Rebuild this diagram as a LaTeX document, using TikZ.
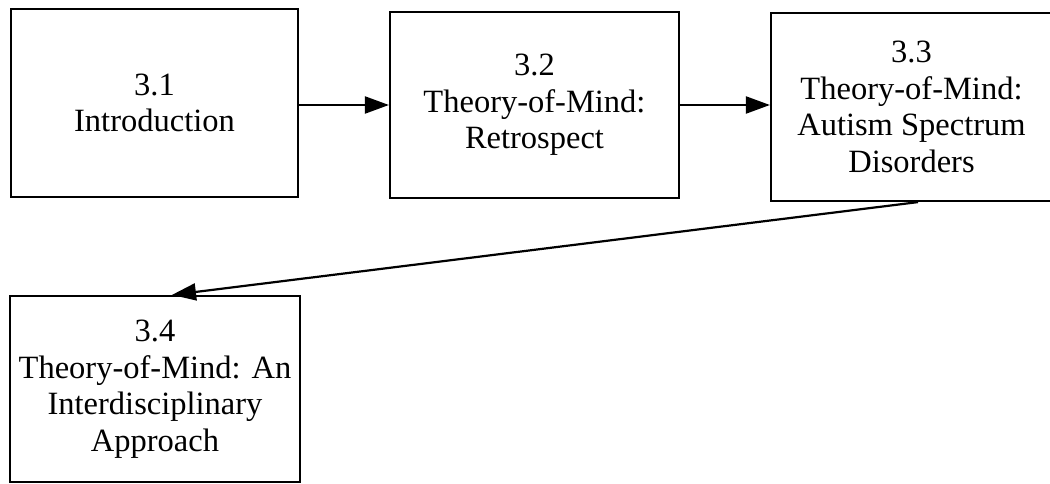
\documentclass[tikz,border=0pt]{standalone}
\usepackage{fontspec}
\setmainfont{Liberation Serif}
\usetikzlibrary{arrows.meta}
\begin{document}
\begin{tikzpicture}[x=1pt,y=-1pt,
  secbox/.style={draw=black, line width=2.2pt, inner sep=0pt, align=center,
    font=\fontsize{32.5}{36.5}\selectfont, text=black},
  link/.style={line width=2.2pt, -{Triangle[length=24pt,width=17pt]}}]
\useasboundingbox (0,0) rectangle (1050,484);
\node[secbox, minimum width=287pt, minimum height=188pt] (s1) at (154.5,103)
  {3.1\\Introduction};
\node[secbox, minimum width=289pt, minimum height=186pt] (s2) at (534.5,105)
  {3.2\\Theory-of-Mind:\\Retrospect};
\node[secbox, minimum width=281pt, minimum height=188pt] (s3) at (911.5,107)
  {3.3\\Theory-of-Mind:\\Autism Spectrum\\Disorders};
\node[secbox, minimum width=290pt, minimum height=186pt] (s4) at (155,389)
  {3.4\\Theory-of-Mind: An\\Interdisciplinary\\Approach};
\draw[link] (s1.east |- 0,105) -- (s2.west |- 0,105);
\draw[link] (s2.east |- 0,105) -- (s3.west |- 0,105);
\draw[link] ([xshift=6.5pt]s3.south) -- ([xshift=17pt]s4.north);
\end{tikzpicture}
\end{document}
